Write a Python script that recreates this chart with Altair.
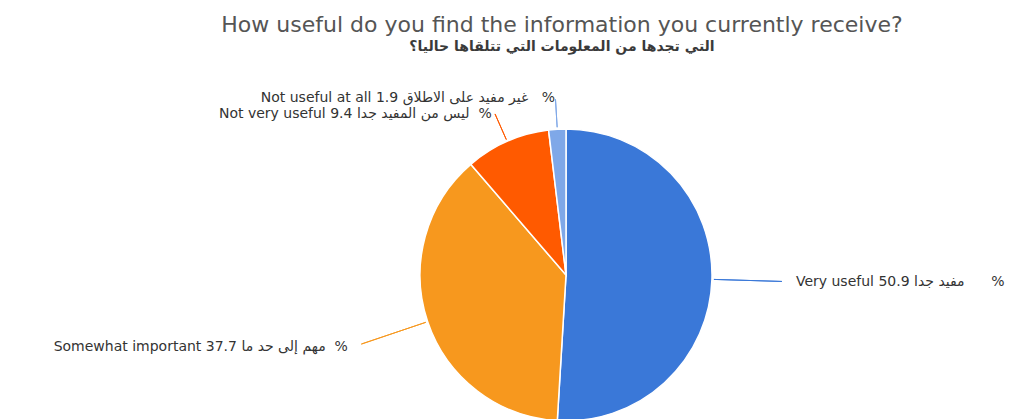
import altair as alt
import pandas as pd

categories = ["Very useful", "Somewhat important", "Not very useful", "Not useful at all"]
values = [50.9, 37.7, 9.4, 1.9]
arabic = ["مفيد جدا", "مهم إلى حد ما", "ليس من المفيد جدا", "غير مفيد على الاطلاق"]
colors = ["#3a78d8", "#f7981e", "#ff5a00", "#7fa8e8"]
sides = ["right", "left", "left", "left"]

NB = "\u00a0"
gaps = [NB * 6, NB * 2, NB * 2, NB * 3]

total = sum(values)
rows = []
cum = 0.0
for c, v, a, s, g in zip(categories, values, arabic, sides, gaps):
    start = cum
    cum += v
    mid = start + v / 2
    rows.append({
        "cat": c, "value": v, "start": start, "end": cum,
        "mid": mid, "mid2": mid + 0.0001,
        "label": f"{c} {v} {a}{g}%", "side": s,
    })
df = pd.DataFrame(rows)

CX, CY = 558, 216
R = 146

theta_scale = alt.Scale(domain=[0, total], range=[0, 6.283185307])
color_scale = alt.Scale(domain=categories, range=colors)

base = alt.Chart(df)

pie = base.mark_arc(outerRadius=R, stroke="white", strokeWidth=1.5).encode(
    theta=alt.Theta("start:Q", scale=theta_scale),
    theta2="end:Q",
    color=alt.Color("cat:N", scale=color_scale, legend=None),
    x=alt.value(CX), y=alt.value(CY),
)

lead_long = base.transform_filter(
    "datum.cat == 'Very useful' || datum.cat == 'Somewhat important'"
).mark_arc(radius=R + 2, radius2=R + 70, fillOpacity=0, strokeWidth=1).encode(
    theta=alt.Theta("mid:Q", scale=theta_scale),
    theta2="mid2:Q",
    stroke=alt.Color("cat:N", scale=color_scale, legend=None),
    x=alt.value(CX), y=alt.value(CY),
)

lead_short = base.transform_filter(
    "datum.cat == 'Not very useful' || datum.cat == 'Not useful at all'"
).mark_arc(radius=R + 2, radius2=R + 30, fillOpacity=0, strokeWidth=1).encode(
    theta=alt.Theta("mid:Q", scale=theta_scale),
    theta2="mid2:Q",
    stroke=alt.Color("cat:N", scale=color_scale, legend=None),
    x=alt.value(CX), y=alt.value(CY),
)

text_style = dict(font="DejaVu Sans", fontSize=14, color="#333333", fontWeight="normal")

label_right = base.transform_filter("datum.side == 'right'").mark_text(
    radius=R + 80, align="left", baseline="middle", dx=4, **text_style
).encode(
    theta=alt.Theta("mid:Q", scale=theta_scale),
    text="label:N",
    x=alt.value(CX), y=alt.value(CY),
)

label_left_far = base.transform_filter("datum.cat == 'Somewhat important'").mark_text(
    radius=R + 80, align="right", baseline="middle", dx=-4, **text_style
).encode(
    theta=alt.Theta("mid:Q", scale=theta_scale),
    text="label:N",
    x=alt.value(CX), y=alt.value(CY),
)

label_left_near = base.transform_filter(
    "datum.cat == 'Not very useful' || datum.cat == 'Not useful at all'"
).mark_text(
    radius=R + 38, align="right", baseline="middle", dy=7, **text_style
).encode(
    theta=alt.Theta("mid:Q", scale=theta_scale),
    text="label:N",
    x=alt.value(CX), y=alt.value(CY),
)

chart = alt.layer(
    pie, lead_long, lead_short, label_right, label_left_far, label_left_near
).properties(
    width=1000,
    height=340,
    view=alt.ViewBackground(stroke="transparent", strokeWidth=0),
    title=alt.Title(
        "How useful do you find the information you currently receive?",
        subtitle="التي تجدها من المعلومات التي تتلقاها حاليا؟",
        anchor="middle",
        dx=54,
        font="DejaVu Sans",
        fontSize=22,
        fontWeight="normal",
        color="#555555",
        subtitleFont="DejaVu Sans",
        subtitleFontSize=14,
        subtitleFontWeight="bold",
        subtitleColor="#3a3a3a",
        subtitlePadding=3,
        offset=4,
    ),
).configure_view(stroke="transparent", strokeWidth=0).configure(
    padding={"top": 6, "left": 0, "right": 0, "bottom": 0}
)

chart.save("out.html", embed_options={"renderer": "svg", "actions": False})
